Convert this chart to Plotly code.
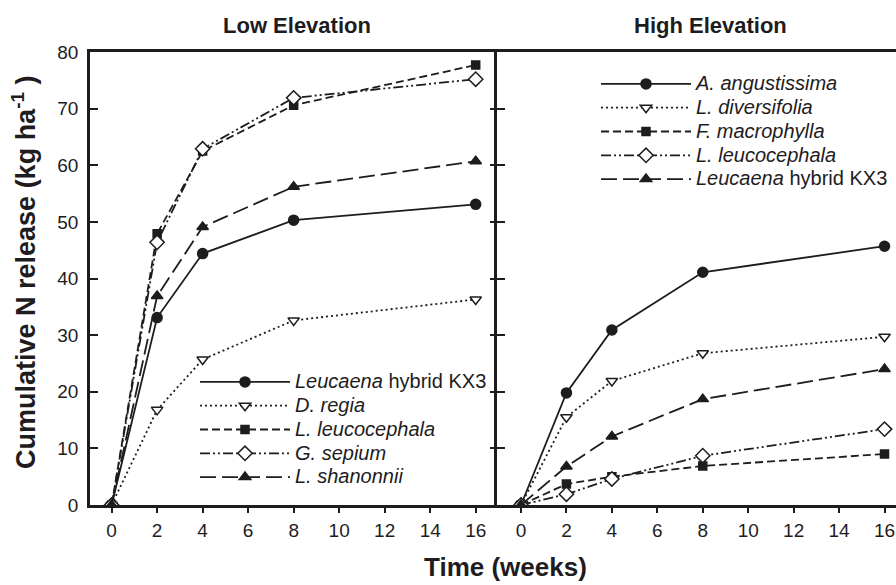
import plotly.graph_objects as go

weeks = [0, 2, 4, 8, 16]

# Low elevation
low_names = ["<i>Leucaena</i> hybrid KX3", "<i>D. regia</i>", "<i>L. leucocephala</i>",
             "<i>G. sepium</i>", "<i>L. shanonnii</i>"]
kx3_low = [0, 33.1, 44.4, 50.3, 53.1]
dregia_low = [0, 16.8, 25.7, 32.6, 36.3]
lleuco_low = [0, 47.9, 62.5, 70.6, 77.7]
gsepium_low = [0, 46.4, 62.9, 71.9, 75.2]
lshan_low = [0, 36.9, 49.1, 56.2, 60.7]

# High elevation
high_names = ["<i>A. angustissima</i>", "<i>L. diversifolia</i>", "<i>F. macrophylla</i>",
              "<i>L. leucocephala</i>", "<i>Leucaena</i> hybrid KX3"]
aang_high = [0, 19.8, 30.9, 41.1, 45.7]
ldiv_high = [0, 15.5, 21.9, 26.8, 29.7]
fmac_high = [0, 3.7, 5.0, 6.9, 9.0]
lleuco_high = [0, 1.9, 4.6, 8.7, 13.4]
kx3_high = [0, 6.8, 12.1, 18.7, 24.0]

x_ticks = [0, 2, 4, 6, 8, 10, 12, 14, 16]
y_ticks = [0, 10, 20, 30, 40, 50, 60, 70, 80]

INK = "#1e1c1d"
FONT = "Liberation Sans, Arial, sans-serif"

styles = [
    dict(dash="solid", symbol="circle", fill=INK, size=10),
    dict(dash="2px,3px", symbol="triangle-down", fill="white", size=10),
    dict(dash="8px,4px", symbol="square", fill=INK, size=8),
    dict(dash="10px,3px,2px,3px,2px,3px", symbol="diamond", fill="white", size=11),
    dict(dash="16px,6px", symbol="triangle-up", fill=INK, size=10),
]

def legend_label(name):
    return '<span style="font-size:20px">' + name + '</span>'

fig = go.Figure()

low_series = [kx3_low, dregia_low, lleuco_low, gsepium_low, lshan_low]
high_series = [aang_high, ldiv_high, fmac_high, lleuco_high, kx3_high]

for name, vals, st in zip(low_names, low_series, styles):
    fig.add_trace(go.Scatter(
        x=weeks, y=vals, name=legend_label(name), mode="lines+markers",
        line=dict(color=INK, width=1.8, dash=st["dash"]),
        marker=dict(symbol=st["symbol"], size=st["size"], color=st["fill"],
                    line=dict(color=INK, width=1.5)),
        xaxis="x", yaxis="y", legend="legend"))

for name, vals, st in zip(high_names, high_series, styles):
    fig.add_trace(go.Scatter(
        x=weeks, y=vals, name=legend_label(name), mode="lines+markers",
        line=dict(color=INK, width=1.8, dash=st["dash"]),
        marker=dict(symbol=st["symbol"], size=st["size"], color=st["fill"],
                    line=dict(color=INK, width=1.5)),
        xaxis="x2", yaxis="y2", legend="legend2"))

W, H = 896, 585
def px(xp):
    return xp / W
def py(yp):
    return (H - yp) / H

axis_common = dict(showgrid=False, zeroline=False, linecolor=INK, linewidth=2.5,
                   tickcolor=INK, tickwidth=1.5, tickfont=dict(family=FONT, size=19, color=INK))

fig.update_layout(
    width=W, height=H,
    margin=dict(l=0, r=0, t=0, b=0, autoexpand=False),
    paper_bgcolor="white", plot_bgcolor="white",
    font=dict(family=FONT, color=INK),
    xaxis=dict(domain=[px(90), px(498)], range=[-0.95, 16.98], tickvals=x_ticks,
               ticks="outside", ticklen=5, showline=True, mirror=True,
               ticklabelstandoff=1, anchor="y", **axis_common),
    yaxis=dict(domain=[py(505), py(52)], range=[0, 80], tickvals=y_ticks,
               ticks="inside", ticklen=8, showline=True, mirror="ticks",
               ticklabelstandoff=5, anchor="x", **axis_common),
    xaxis2=dict(domain=[px(497), 1.0], range=[-1.056, 16.505], tickvals=x_ticks,
                ticks="outside", ticklen=5, showline=True, mirror=True,
                ticklabelstandoff=1, anchor="y2", **axis_common),
    yaxis2=dict(domain=[py(505), py(52)], range=[0, 80], tickvals=y_ticks,
                ticks="inside", ticklen=8, showline=True, mirror=False,
                showticklabels=False, anchor="x2", **axis_common),
    legend=dict(x=px(195), y=py(365), xanchor="left", yanchor="top",
                bgcolor="rgba(0,0,0,0)", font=dict(family=FONT, size=16, color=INK),
                itemwidth=90, tracegroupgap=0, itemclick=False),
    legend2=dict(x=px(596), y=py(67), xanchor="left", yanchor="top",
                 bgcolor="rgba(0,0,0,0)", font=dict(family=FONT, size=16, color=INK),
                 itemwidth=90, tracegroupgap=0, itemclick=False),
    annotations=[
        dict(text="<b>Low Elevation</b>", x=px(297), y=py(26), xref="paper", yref="paper",
             showarrow=False, xanchor="center", yanchor="middle",
             font=dict(family=FONT, size=22, color=INK)),
        dict(text="<b>High Elevation</b>", x=px(710), y=py(26), xref="paper", yref="paper",
             showarrow=False, xanchor="center", yanchor="middle",
             font=dict(family=FONT, size=22, color=INK)),
        dict(text="<b>Time (weeks)</b>", x=px(505), y=py(567), xref="paper", yref="paper",
             showarrow=False, xanchor="center", yanchor="middle",
             font=dict(family=FONT, size=26, color=INK)),
        dict(text="<b>Cumulative N release (kg ha<sup>-1</sup> )</b>", x=px(24), y=py(273),
             xref="paper", yref="paper", textangle=-90,
             showarrow=False, xanchor="center", yanchor="middle",
             font=dict(family=FONT, size=27, color=INK)),
    ],
)

fig.write_html("out.html",
               config={"displayModeBar": False},
               post_script="document.body.style.margin='0';document.body.style.padding='0';")
